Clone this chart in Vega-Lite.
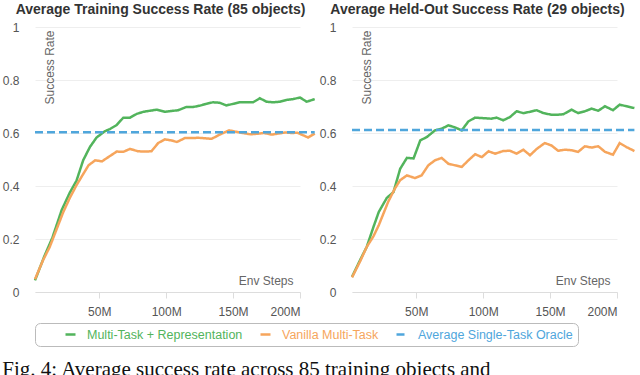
{
  "$schema": "https://vega.github.io/schema/vega-lite/v6.json",
  "padding": {"left": 2, "top": 3, "right": 0, "bottom": 0},
  "spacing": 52,
  "bounds": "flush",
  "title": {"text": "Fig. 4: Average success rate across 85 training objects and", "orient": "bottom", "anchor": "start", "frame": "bounds",
            "font": "Liberation Serif", "fontSize": 21, "fontWeight": "normal", "color": "#111", "offset": 12},
  "datasets": {
    "train": [
      {"series": "Multi-Task + Representation", "steps": 2, "rate": 0.044},
      {"series": "Multi-Task + Representation", "steps": 9, "rate": 0.135},
      {"series": "Multi-Task + Representation", "steps": 15, "rate": 0.205},
      {"series": "Multi-Task + Representation", "steps": 22, "rate": 0.31},
      {"series": "Multi-Task + Representation", "steps": 28, "rate": 0.375},
      {"series": "Multi-Task + Representation", "steps": 33, "rate": 0.42},
      {"series": "Multi-Task + Representation", "steps": 38, "rate": 0.497},
      {"series": "Multi-Task + Representation", "steps": 43, "rate": 0.547},
      {"series": "Multi-Task + Representation", "steps": 48, "rate": 0.583},
      {"series": "Multi-Task + Representation", "steps": 54, "rate": 0.606},
      {"series": "Multi-Task + Representation", "steps": 58, "rate": 0.615},
      {"series": "Multi-Task + Representation", "steps": 63, "rate": 0.63},
      {"series": "Multi-Task + Representation", "steps": 68, "rate": 0.658},
      {"series": "Multi-Task + Representation", "steps": 73, "rate": 0.658},
      {"series": "Multi-Task + Representation", "steps": 78, "rate": 0.672},
      {"series": "Multi-Task + Representation", "steps": 83, "rate": 0.68},
      {"series": "Multi-Task + Representation", "steps": 88, "rate": 0.684},
      {"series": "Multi-Task + Representation", "steps": 93, "rate": 0.688},
      {"series": "Multi-Task + Representation", "steps": 99, "rate": 0.68},
      {"series": "Multi-Task + Representation", "steps": 104, "rate": 0.683},
      {"series": "Multi-Task + Representation", "steps": 109, "rate": 0.686},
      {"series": "Multi-Task + Representation", "steps": 115, "rate": 0.698},
      {"series": "Multi-Task + Representation", "steps": 120, "rate": 0.698},
      {"series": "Multi-Task + Representation", "steps": 125, "rate": 0.703},
      {"series": "Multi-Task + Representation", "steps": 130, "rate": 0.71},
      {"series": "Multi-Task + Representation", "steps": 135, "rate": 0.716},
      {"series": "Multi-Task + Representation", "steps": 140, "rate": 0.714},
      {"series": "Multi-Task + Representation", "steps": 145, "rate": 0.704},
      {"series": "Multi-Task + Representation", "steps": 150, "rate": 0.71},
      {"series": "Multi-Task + Representation", "steps": 155, "rate": 0.716},
      {"series": "Multi-Task + Representation", "steps": 160, "rate": 0.716},
      {"series": "Multi-Task + Representation", "steps": 165, "rate": 0.716},
      {"series": "Multi-Task + Representation", "steps": 170, "rate": 0.731},
      {"series": "Multi-Task + Representation", "steps": 175, "rate": 0.718},
      {"series": "Multi-Task + Representation", "steps": 180, "rate": 0.716},
      {"series": "Multi-Task + Representation", "steps": 185, "rate": 0.718},
      {"series": "Multi-Task + Representation", "steps": 190, "rate": 0.725},
      {"series": "Multi-Task + Representation", "steps": 195, "rate": 0.728},
      {"series": "Multi-Task + Representation", "steps": 200, "rate": 0.734},
      {"series": "Multi-Task + Representation", "steps": 205, "rate": 0.718},
      {"series": "Multi-Task + Representation", "steps": 211, "rate": 0.728},
      {"series": "Vanilla Multi-Task", "steps": 2, "rate": 0.048},
      {"series": "Vanilla Multi-Task", "steps": 8, "rate": 0.12},
      {"series": "Vanilla Multi-Task", "steps": 13, "rate": 0.17},
      {"series": "Vanilla Multi-Task", "steps": 18, "rate": 0.235},
      {"series": "Vanilla Multi-Task", "steps": 23, "rate": 0.3},
      {"series": "Vanilla Multi-Task", "steps": 28, "rate": 0.355},
      {"series": "Vanilla Multi-Task", "steps": 33, "rate": 0.403},
      {"series": "Vanilla Multi-Task", "steps": 38, "rate": 0.445},
      {"series": "Vanilla Multi-Task", "steps": 42, "rate": 0.478},
      {"series": "Vanilla Multi-Task", "steps": 47, "rate": 0.497},
      {"series": "Vanilla Multi-Task", "steps": 52, "rate": 0.493},
      {"series": "Vanilla Multi-Task", "steps": 58, "rate": 0.513},
      {"series": "Vanilla Multi-Task", "steps": 63, "rate": 0.53},
      {"series": "Vanilla Multi-Task", "steps": 68, "rate": 0.529},
      {"series": "Vanilla Multi-Task", "steps": 73, "rate": 0.54},
      {"series": "Vanilla Multi-Task", "steps": 79, "rate": 0.531},
      {"series": "Vanilla Multi-Task", "steps": 84, "rate": 0.53},
      {"series": "Vanilla Multi-Task", "steps": 89, "rate": 0.531},
      {"series": "Vanilla Multi-Task", "steps": 94, "rate": 0.562},
      {"series": "Vanilla Multi-Task", "steps": 99, "rate": 0.576},
      {"series": "Vanilla Multi-Task", "steps": 104, "rate": 0.572},
      {"series": "Vanilla Multi-Task", "steps": 108, "rate": 0.566},
      {"series": "Vanilla Multi-Task", "steps": 114, "rate": 0.581},
      {"series": "Vanilla Multi-Task", "steps": 119, "rate": 0.581},
      {"series": "Vanilla Multi-Task", "steps": 124, "rate": 0.582},
      {"series": "Vanilla Multi-Task", "steps": 129, "rate": 0.58},
      {"series": "Vanilla Multi-Task", "steps": 134, "rate": 0.578},
      {"series": "Vanilla Multi-Task", "steps": 140, "rate": 0.594},
      {"series": "Vanilla Multi-Task", "steps": 147, "rate": 0.61},
      {"series": "Vanilla Multi-Task", "steps": 152, "rate": 0.605},
      {"series": "Vanilla Multi-Task", "steps": 157, "rate": 0.6},
      {"series": "Vanilla Multi-Task", "steps": 163, "rate": 0.595},
      {"series": "Vanilla Multi-Task", "steps": 168, "rate": 0.597},
      {"series": "Vanilla Multi-Task", "steps": 173, "rate": 0.6},
      {"series": "Vanilla Multi-Task", "steps": 179, "rate": 0.594},
      {"series": "Vanilla Multi-Task", "steps": 184, "rate": 0.598},
      {"series": "Vanilla Multi-Task", "steps": 189, "rate": 0.602},
      {"series": "Vanilla Multi-Task", "steps": 194, "rate": 0.6},
      {"series": "Vanilla Multi-Task", "steps": 198, "rate": 0.601},
      {"series": "Vanilla Multi-Task", "steps": 203, "rate": 0.59},
      {"series": "Vanilla Multi-Task", "steps": 206, "rate": 0.583},
      {"series": "Vanilla Multi-Task", "steps": 211, "rate": 0.598},
      {"series": "Average Single-Task Oracle", "steps": 2, "rate": 0.603},
      {"series": "Average Single-Task Oracle", "steps": 211, "rate": 0.603}
    ],
    "held": [
      {"series": "Multi-Task + Representation", "steps": 2, "rate": 0.057},
      {"series": "Multi-Task + Representation", "steps": 8, "rate": 0.12},
      {"series": "Multi-Task + Representation", "steps": 13, "rate": 0.17},
      {"series": "Multi-Task + Representation", "steps": 18, "rate": 0.245},
      {"series": "Multi-Task + Representation", "steps": 22, "rate": 0.302},
      {"series": "Multi-Task + Representation", "steps": 28, "rate": 0.355},
      {"series": "Multi-Task + Representation", "steps": 33, "rate": 0.377},
      {"series": "Multi-Task + Representation", "steps": 38, "rate": 0.465},
      {"series": "Multi-Task + Representation", "steps": 43, "rate": 0.506},
      {"series": "Multi-Task + Representation", "steps": 48, "rate": 0.504},
      {"series": "Multi-Task + Representation", "steps": 53, "rate": 0.572},
      {"series": "Multi-Task + Representation", "steps": 58, "rate": 0.585},
      {"series": "Multi-Task + Representation", "steps": 64, "rate": 0.61},
      {"series": "Multi-Task + Representation", "steps": 69, "rate": 0.616},
      {"series": "Multi-Task + Representation", "steps": 74, "rate": 0.629},
      {"series": "Multi-Task + Representation", "steps": 79, "rate": 0.621},
      {"series": "Multi-Task + Representation", "steps": 84, "rate": 0.61},
      {"series": "Multi-Task + Representation", "steps": 89, "rate": 0.644},
      {"series": "Multi-Task + Representation", "steps": 94, "rate": 0.658},
      {"series": "Multi-Task + Representation", "steps": 100, "rate": 0.656},
      {"series": "Multi-Task + Representation", "steps": 106, "rate": 0.654},
      {"series": "Multi-Task + Representation", "steps": 110, "rate": 0.658},
      {"series": "Multi-Task + Representation", "steps": 115, "rate": 0.648},
      {"series": "Multi-Task + Representation", "steps": 120, "rate": 0.66},
      {"series": "Multi-Task + Representation", "steps": 125, "rate": 0.682},
      {"series": "Multi-Task + Representation", "steps": 130, "rate": 0.675},
      {"series": "Multi-Task + Representation", "steps": 135, "rate": 0.68},
      {"series": "Multi-Task + Representation", "steps": 140, "rate": 0.686},
      {"series": "Multi-Task + Representation", "steps": 145, "rate": 0.675},
      {"series": "Multi-Task + Representation", "steps": 151, "rate": 0.669},
      {"series": "Multi-Task + Representation", "steps": 156, "rate": 0.669},
      {"series": "Multi-Task + Representation", "steps": 160, "rate": 0.671},
      {"series": "Multi-Task + Representation", "steps": 166, "rate": 0.688},
      {"series": "Multi-Task + Representation", "steps": 171, "rate": 0.675},
      {"series": "Multi-Task + Representation", "steps": 176, "rate": 0.682},
      {"series": "Multi-Task + Representation", "steps": 181, "rate": 0.692},
      {"series": "Multi-Task + Representation", "steps": 186, "rate": 0.684},
      {"series": "Multi-Task + Representation", "steps": 191, "rate": 0.701},
      {"series": "Multi-Task + Representation", "steps": 197, "rate": 0.686},
      {"series": "Multi-Task + Representation", "steps": 202, "rate": 0.707},
      {"series": "Multi-Task + Representation", "steps": 207, "rate": 0.701},
      {"series": "Multi-Task + Representation", "steps": 213, "rate": 0.694},
      {"series": "Vanilla Multi-Task", "steps": 2, "rate": 0.055},
      {"series": "Vanilla Multi-Task", "steps": 8, "rate": 0.115},
      {"series": "Vanilla Multi-Task", "steps": 13, "rate": 0.17},
      {"series": "Vanilla Multi-Task", "steps": 18, "rate": 0.21},
      {"series": "Vanilla Multi-Task", "steps": 22, "rate": 0.252},
      {"series": "Vanilla Multi-Task", "steps": 29, "rate": 0.34},
      {"series": "Vanilla Multi-Task", "steps": 34, "rate": 0.39},
      {"series": "Vanilla Multi-Task", "steps": 38, "rate": 0.422},
      {"series": "Vanilla Multi-Task", "steps": 43, "rate": 0.44},
      {"series": "Vanilla Multi-Task", "steps": 49, "rate": 0.43},
      {"series": "Vanilla Multi-Task", "steps": 54, "rate": 0.44},
      {"series": "Vanilla Multi-Task", "steps": 59, "rate": 0.478},
      {"series": "Vanilla Multi-Task", "steps": 64, "rate": 0.497},
      {"series": "Vanilla Multi-Task", "steps": 69, "rate": 0.506},
      {"series": "Vanilla Multi-Task", "steps": 74, "rate": 0.484},
      {"series": "Vanilla Multi-Task", "steps": 79, "rate": 0.478},
      {"series": "Vanilla Multi-Task", "steps": 84, "rate": 0.472},
      {"series": "Vanilla Multi-Task", "steps": 89, "rate": 0.497},
      {"series": "Vanilla Multi-Task", "steps": 94, "rate": 0.52},
      {"series": "Vanilla Multi-Task", "steps": 99, "rate": 0.509},
      {"series": "Vanilla Multi-Task", "steps": 104, "rate": 0.531},
      {"series": "Vanilla Multi-Task", "steps": 109, "rate": 0.522},
      {"series": "Vanilla Multi-Task", "steps": 115, "rate": 0.532},
      {"series": "Vanilla Multi-Task", "steps": 120, "rate": 0.533},
      {"series": "Vanilla Multi-Task", "steps": 125, "rate": 0.522},
      {"series": "Vanilla Multi-Task", "steps": 130, "rate": 0.537},
      {"series": "Vanilla Multi-Task", "steps": 135, "rate": 0.516},
      {"series": "Vanilla Multi-Task", "steps": 140, "rate": 0.54},
      {"series": "Vanilla Multi-Task", "steps": 146, "rate": 0.562},
      {"series": "Vanilla Multi-Task", "steps": 151, "rate": 0.553},
      {"series": "Vanilla Multi-Task", "steps": 156, "rate": 0.533},
      {"series": "Vanilla Multi-Task", "steps": 161, "rate": 0.537},
      {"series": "Vanilla Multi-Task", "steps": 166, "rate": 0.535},
      {"series": "Vanilla Multi-Task", "steps": 171, "rate": 0.529},
      {"series": "Vanilla Multi-Task", "steps": 176, "rate": 0.55},
      {"series": "Vanilla Multi-Task", "steps": 181, "rate": 0.545},
      {"series": "Vanilla Multi-Task", "steps": 186, "rate": 0.55},
      {"series": "Vanilla Multi-Task", "steps": 191, "rate": 0.529},
      {"series": "Vanilla Multi-Task", "steps": 197, "rate": 0.518},
      {"series": "Vanilla Multi-Task", "steps": 202, "rate": 0.562},
      {"series": "Vanilla Multi-Task", "steps": 207, "rate": 0.547},
      {"series": "Vanilla Multi-Task", "steps": 213, "rate": 0.532},
      {"series": "Average Single-Task Oracle", "steps": 2, "rate": 0.611},
      {"series": "Average Single-Task Oracle", "steps": 213, "rate": 0.611}
    ]
  },
  "hconcat": [
    {
      "width": 265,
      "height": 265,
      "title": {"text": "Average Training Success Rate (85 objects)", "dx": -7},
      "data": {"name": "train"},
      "mark": {"type": "line", "strokeWidth": 2.5, "clip": false},
      "encoding": {
        "x": {"field": "steps", "type": "quantitative", "title": "Env Steps",
              "axis": {"values": [50, 100, 150, 200], "labelExpr": "datum.value + 'M'"},
              "scale": {"domain": [2, 200], "nice": false, "zero": false}},
        "y": {"field": "rate", "type": "quantitative", "title": "Success Rate",
              "axis": {"values": [0, 0.2, 0.4, 0.6, 0.8, 1], "format": "~g"},
              "scale": {"domain": [0, 1], "nice": false}},
        "color": {"field": "series", "type": "nominal", "title": "\u00a0",
                  "scale": {"domain": ["Multi-Task + Representation", "Vanilla Multi-Task", "Average Single-Task Oracle"],
                            "range": ["#52b45c", "#f6a55c", "#4fa6dc"]},
                  "legend": {"labelLimit": 320,
                             "labelExpr": "datum.label == 'Average Single-Task Oracle' ? datum.label + '\u00a0\u00a0\u00a0\u00a0\u00a0\u00a0\u00a0\u00a0\u00a0\u00a0' : datum.label",
                             "encode": {"labels": {"update": {"fill": {"scale": "color", "field": "value"}}}}}},
        "strokeDash": {"field": "series", "type": "nominal", "title": "\u00a0",
                  "scale": {"domain": ["Multi-Task + Representation", "Vanilla Multi-Task", "Average Single-Task Oracle"],
                            "range": [[1, 0], [1, 0], [8, 4]]}}
      }
    },
    {
      "width": 265,
      "height": 265,
      "title": {"text": "Average Held-Out Success Rate (29 objects)", "dx": -7},
      "data": {"name": "held"},
      "mark": {"type": "line", "strokeWidth": 2.5, "clip": false},
      "encoding": {
        "x": {"field": "steps", "type": "quantitative", "title": "Env Steps",
              "axis": {"values": [50, 100, 150, 200], "labelExpr": "datum.value + 'M'"},
              "scale": {"domain": [2, 200], "nice": false, "zero": false}},
        "y": {"field": "rate", "type": "quantitative", "title": "Success Rate",
              "axis": {"values": [0, 0.2, 0.4, 0.6, 0.8, 1], "format": "~g"},
              "scale": {"domain": [0, 1], "nice": false}},
        "color": {"field": "series", "type": "nominal", "title": "\u00a0"},
        "strokeDash": {"field": "series", "type": "nominal", "title": "\u00a0"}
      }
    }
  ],
  "resolve": {"scale": {"x": "independent", "y": "independent"}},
  "config": {
    "font": "Liberation Sans",
    "view": {"stroke": null},
    "title": {"fontSize": 14, "fontWeight": "bold", "color": "#333", "offset": 4, "anchor": "middle", "frame": "group"},
    "axisY": {
      "grid": true, "gridColor": "#eeeeee", "domain": false, "ticks": false,
      "labelColor": "#555", "labelFontSize": 12, "labelPadding": 16,
      "titleColor": "#666", "titleFontSize": 12, "titleFontWeight": "normal",
      "titleAngle": -90, "titleX": 9, "titleY": 3, "titleAlign": "right", "titleBaseline": "top"
    },
    "axisX": {
      "grid": false, "domainColor": "#dddddd", "tickColor": "#dddddd", "tickSize": 6,
      "labelColor": "#555", "labelFontSize": 12, "labelPadding": 8,
      "titleColor": "#666", "titleFontSize": 12, "titleFontWeight": "normal",
      "titleX": 258, "titleY": -5, "titleAlign": "right", "titleBaseline": "bottom"
    },
    "legend": {
      "orient": "bottom", "direction": "horizontal",
      "strokeColor": "#bbbbbb", "cornerRadius": 5, "padding": 5, "fillColor": "white",
      "titleOrient": "left", "titlePadding": 24, "titleFontSize": 12,
      "labelFontSize": 12.5, "symbolType": "stroke", "symbolSize": 100, "symbolStrokeWidth": 2.5,
      "columnPadding": 12, "labelOffset": 10, "offset": 6
    }
  }
}
